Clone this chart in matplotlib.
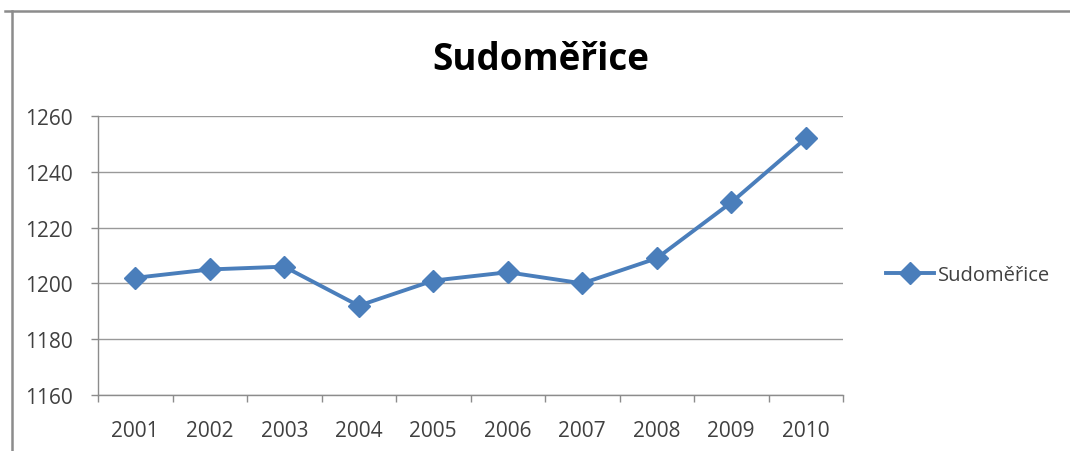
import matplotlib
matplotlib.use("Agg")
import matplotlib.pyplot as plt
from matplotlib.lines import Line2D

years = ["2001", "2002", "2003", "2004", "2005", "2006", "2007", "2008", "2009", "2010"]
values = [1202, 1205, 1206, 1192, 1201, 1204, 1200, 1209, 1229, 1252]
yticks = [1160, 1180, 1200, 1220, 1240, 1260]
series_name = "Sudoměřice"
title = "Sudoměřice"

plt.rcParams['font.family'] = ['Open Sans', 'DejaVu Sans']

fig = plt.figure(figsize=(10.7, 4.52), dpi=100)
fig.patch.set_facecolor("white")

# outer chart frame
fig.add_artist(Line2D([5/1070, 1.0], [1-12/452, 1-12/452], transform=fig.transFigure,
                      color="#8c8c8c", lw=1.8))
fig.add_artist(Line2D([12/1070, 12/1070], [0, 1-12/452], transform=fig.transFigure,
                      color="#8c8c8c", lw=1.8))

ax = fig.add_axes([98/1070, 1-396/452, 745/1070, (396-117)/452])
x = list(range(len(years)))
color = "#4A7EBB"
ax.plot(x, values, color=color, lw=2.8, marker="D", markersize=11,
        markerfacecolor=color, markeredgecolor=color, label=series_name, zorder=3)

ax.set_xlim(-0.5, len(years) - 0.5)
ax.set_ylim(1160, 1260)
ax.set_yticks(yticks)
ax.set_yticklabels([str(t) for t in yticks])
ax.set_xticks(x)
ax.set_xticklabels(years)
ax.set_xticks([i - 0.5 for i in range(len(years) + 1)], minor=True)
ax.tick_params(axis="x", which="major", length=0, pad=18, labelsize=15, labelcolor="#404040")
ax.tick_params(axis="x", which="minor", length=5, color="#8c8c8c", width=1)
ax.tick_params(axis="y", length=5, color="#8c8c8c", width=1, pad=13, labelsize=15, labelcolor="#404040")

ax.grid(axis="y", color="#999999", lw=1)
ax.set_axisbelow(True)
for s in ["top", "right"]:
    ax.spines[s].set_visible(False)
for s in ["left", "bottom"]:
    ax.spines[s].set_color("#8c8c8c")
    ax.spines[s].set_linewidth(1)

fig.text(541/1070, 1-60/452, title, ha="center", va="center", fontsize=26.5,
         fontweight="bold", color="black")

leg = fig.legend(loc="center left", bbox_to_anchor=(868/1070, 1-276/452), frameon=False,
                 fontsize=14.5, handlelength=2.4, handletextpad=0.15, labelcolor="#404040")

fig.savefig("out.png", dpi=100)
